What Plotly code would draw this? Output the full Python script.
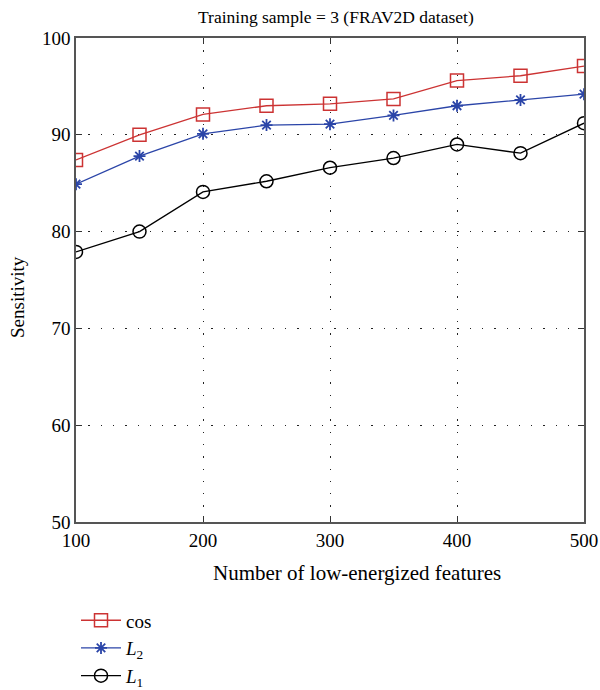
import plotly.graph_objects as go

features = [100, 150, 200, 250, 300, 350, 400, 450, 500]
cos_vals = [87.4, 90.0, 92.1, 93.0, 93.2, 93.7, 95.6, 96.1, 97.1]
l2_vals = [84.9, 87.8, 90.1, 91.0, 91.1, 92.0, 93.0, 93.6, 94.2]
l1_vals = [77.9, 80.0, 84.1, 85.2, 86.6, 87.6, 89.0, 88.1, 91.2]
x_ticks = [100, 200, 300, 400, 500]
y_ticks = [50, 60, 70, 80, 90, 100]

font = "Liberation Serif"
W, H = 600, 690
# plot area edges in page pixels
PL, PR, PT, PB = 76, 584, 38, 522
PW, PH = PR - PL, PB - PT


def px(xp):
    return (xp - PL) / PW


def py(yp):
    return (PB - yp) / PH


fig = go.Figure()
fig.add_trace(go.Scatter(x=features, y=cos_vals, mode="lines+markers", name="cos",
                         legendgroup="a",
                         line=dict(color="#cc3333", width=1.3),
                         marker=dict(symbol="square-open", size=13, color="#cc3333",
                                     line=dict(width=1.5))))
fig.add_trace(go.Scatter(x=features, y=l2_vals, mode="lines+markers", name="<i>L</i><sub>2</sub>",
                         legendgroup="b",
                         line=dict(color="#2b45a8", width=1.3),
                         marker=dict(symbol="asterisk-open", size=10, color="#2b45a8",
                                     line=dict(width=1.8, color="#2b45a8"))))
fig.add_trace(go.Scatter(x=features, y=l1_vals, mode="lines+markers", name="<i>L</i><sub>1</sub>",
                         legendgroup="c",
                         line=dict(color="black", width=1.3),
                         marker=dict(symbol="circle-open", size=13, color="black",
                                     line=dict(width=1.5))))

axis_common = dict(
    showline=True, linecolor="#555", linewidth=1.6, mirror="ticks",
    ticks="inside", ticklen=6, tickcolor="#333", tickwidth=1.2,
    showgrid=True, gridcolor="#222", griddash="1.3px,11px", gridwidth=1.3,
    zeroline=False, automargin=False,
    tickfont=dict(family=font, size=19, color="black"),
)

fig.update_layout(
    width=W, height=H,
    margin=dict(l=PL, r=W - PR, t=PT, b=H - PB, autoexpand=False),
    plot_bgcolor="white", paper_bgcolor="white",
    font=dict(family=font, size=16, color="black"),
    xaxis=dict(range=[100, 500], tickvals=x_ticks, **axis_common),
    yaxis=dict(range=[50, 100], tickvals=y_ticks, **axis_common),
    legend=dict(x=0.0, y=-0.164, xanchor="left", yanchor="top",
                font=dict(family=font, size=19), tracegroupgap=0,
                bgcolor="rgba(0,0,0,0)", itemwidth=40),
    showlegend=True,
    annotations=[
        dict(text="Training sample = 3 (FRAV2D dataset)", xref="paper", yref="paper",
             x=px(336), y=py(17), xanchor="center", yanchor="middle",
             showarrow=False, font=dict(family=font, size=17.5)),
        dict(text="Number of low-energized features", xref="paper", yref="paper",
             x=px(357), y=py(573), xanchor="center", yanchor="middle",
             showarrow=False, font=dict(family=font, size=21)),
        dict(text="Sensitivity", xref="paper", yref="paper", textangle=-90,
             x=px(17), y=py(297), xanchor="center", yanchor="middle",
             showarrow=False, font=dict(family=font, size=19)),
    ],
)

fig.write_html(
    "out.html",
    config={"displayModeBar": False},
    post_script="document.body.style.margin='0';document.body.style.overflow='hidden';",
)
